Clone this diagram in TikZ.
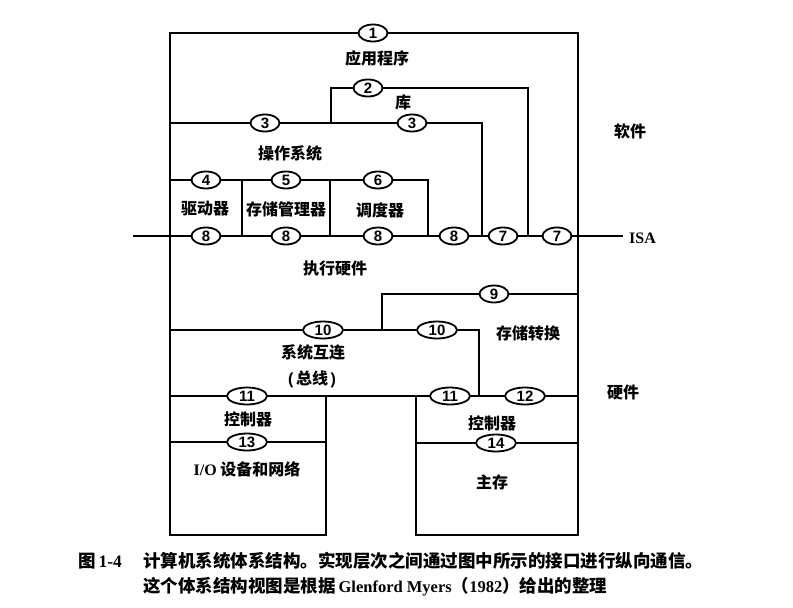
\documentclass[tikz,border=0pt]{standalone}
\usepackage{fontspec}
\setmainfont{Liberation Serif}
\newfontfamily\cjk{Noto Sans CJK SC}
\newfontfamily\numfont{Liberation Sans}
\usetikzlibrary{shapes.geometric}
\begin{document}
\begin{tikzpicture}[x=1pt,y=-1pt,
  wire/.style={line width=1.8pt, line join=miter},
  port/.style={ellipse, draw, line width=1.8pt, fill=white, minimum width=29pt, minimum height=17pt, inner sep=0pt, font=\numfont\bfseries\fontsize{15}{15}\selectfont},
  wport/.style={port, minimum width=40pt},
  lab/.style={font=\cjk\bfseries\fontsize{16}{16}\selectfont, inner sep=0pt},
  captext/.style={font=\cjk\bfseries\fontsize{17.5}{18}\selectfont, anchor=west, inner sep=0pt}]
\useasboundingbox (0,0) rectangle (793,608);
% ports
\node[port] (o1) at (373,33) {1};
\node[port] (o2) at (368,88) {2};
\node[port] (o3a) at (265,123) {3};
\node[port] (o3b) at (412,123) {3};
\node[port] (o4) at (206,180) {4};
\node[port] (o5) at (286,180) {5};
\node[port] (o6) at (378,180) {6};
\node[port] (o8a) at (206,236) {8};
\node[port] (o8b) at (286,236) {8};
\node[port] (o8c) at (378,236) {8};
\node[port] (o8d) at (454,236) {8};
\node[port] (o7a) at (503,236) {7};
\node[port] (o7b) at (557,236) {7};
\node[port] (o9) at (494,294) {9};
\node[wport] (o10a) at (323,330) {10};
\node[wport] (o10b) at (437,330) {10};
\node[wport] (o11a) at (247,396) {11};
\node[wport] (o11b) at (450,396) {11};
\node[wport] (o12) at (525,396) {12};
\node[wport] (o13) at (247,442) {13};
\node[wport] (o14) at (496,443) {14};
% corners
\coordinate (tl) at (170,33);
\coordinate (tr) at (578,33);
\coordinate (rbr) at (578,535);
\coordinate (rbl) at (416,535);
\coordinate (rtl) at (416,396);
\coordinate (lbl) at (170,535);
\coordinate (lbr) at (326,535);
\coordinate (lbt) at (326,396);
\coordinate (libA) at (331,123);
\coordinate (libB) at (331,88);
\coordinate (libC) at (528,88);
\coordinate (libD) at (528,236);
\coordinate (osL) at (170,123);
\coordinate (osR) at (482,123);
\coordinate (osD) at (482,236);
\coordinate (drL) at (170,180);
\coordinate (drR) at (428,180);
\coordinate (drD) at (428,236);
\coordinate (dv1t) at (242,180);
\coordinate (dv1b) at (242,236);
\coordinate (dv2t) at (330,180);
\coordinate (dv2b) at (330,236);
\coordinate (isaL) at (133,236);
\coordinate (isaR) at (623,236);
\coordinate (mtA) at (382,330);
\coordinate (mtB) at (382,294);
\coordinate (mtR) at (578,294);
\coordinate (bsL) at (170,330);
\coordinate (bsR) at (479,330);
\coordinate (bsD) at (479,396);
\coordinate (ctL) at (170,396);
\coordinate (ctR) at (578,396);
\coordinate (ioL) at (170,442);
\coordinate (ioR) at (326,442);
\coordinate (msL) at (416,443);
\coordinate (msR) at (578,443);
% wires
\draw[wire] (lbt) -- (lbr) -- (lbl) -- (tl) -- (o1) -- (tr) -- (rbr) -- (rbl) -- (rtl);
\draw[wire] (libA) -- (libB) -- (o2) -- (libC) -- (libD);
\draw[wire] (osL) -- (o3a) -- (o3b) -- (osR) -- (osD);
\draw[wire] (drL) -- (o4) -- (o5) -- (o6) -- (drR) -- (drD);
\draw[wire] (dv1t) -- (dv1b);
\draw[wire] (dv2t) -- (dv2b);
\draw[wire] (isaL) -- (o8a) -- (o8b) -- (o8c) -- (o8d) -- (o7a) -- (o7b) -- (isaR);
\draw[wire] (mtA) -- (mtB) -- (o9) -- (mtR);
\draw[wire] (bsL) -- (o10a) -- (o10b) -- (bsR) -- (bsD);
\draw[wire] (ctL) -- (o11a) -- (o11b) -- (o12) -- (ctR);
\draw[wire] (ioL) -- (o13) -- (ioR);
\draw[wire] (msL) -- (o14) -- (msR);
% labels
\node[anchor=west, inner sep=0pt, font=\rmfamily\bfseries\fontsize{16}{16}\selectfont] (isa) at (629,238) {ISA};
\node[lab] (app) at (377,58) {应用程序};
\node[lab] (lib) at (403,102) {库};
\node[lab] (os) at (290,153) {操作系统};
\node[lab] (drv) at (205,209) {驱动器};
\node[lab] (mem) at (286,209) {存储管理器};
\node[lab] (sch) at (380,210) {调度器};
\node[lab] (exe) at (335,268) {执行硬件};
\node[lab] (sw) at (630,131) {软件};
\node[lab] (mmu) at (528,333) {存储转换};
\node[lab] (bus) at (313,352) {系统互连};
\node[lab] (bus2) at (312,379) {{\numfont (}\,总线\,{\numfont )}};
\node[lab] (hw) at (623,392) {硬件};
\node[lab] (ctl1) at (248,419) {控制器};
\node[lab] (ctl2) at (492,423) {控制器};
\node[lab] (io) at (247,469) {{\rmfamily I/O} 设备和网络};
\node[lab] (mm) at (492,482) {主存};
% caption
\node[captext] (fig) at (78,561) {图\,{\rmfamily 1-4}};
\node[captext] (c1) at (143,561) {计算机系统体系结构。实现层次之间通过图中所示的接口进行纵向通信。};
\node[captext] (c2) at (143,587) {这个体系结构视图是根据\,{\rmfamily\fontsize{16.5}{17}\selectfont Glenford Myers}（{\rmfamily\fontsize{16.5}{17}\selectfont 1982}）给出的整理};
\end{tikzpicture}
\end{document}
